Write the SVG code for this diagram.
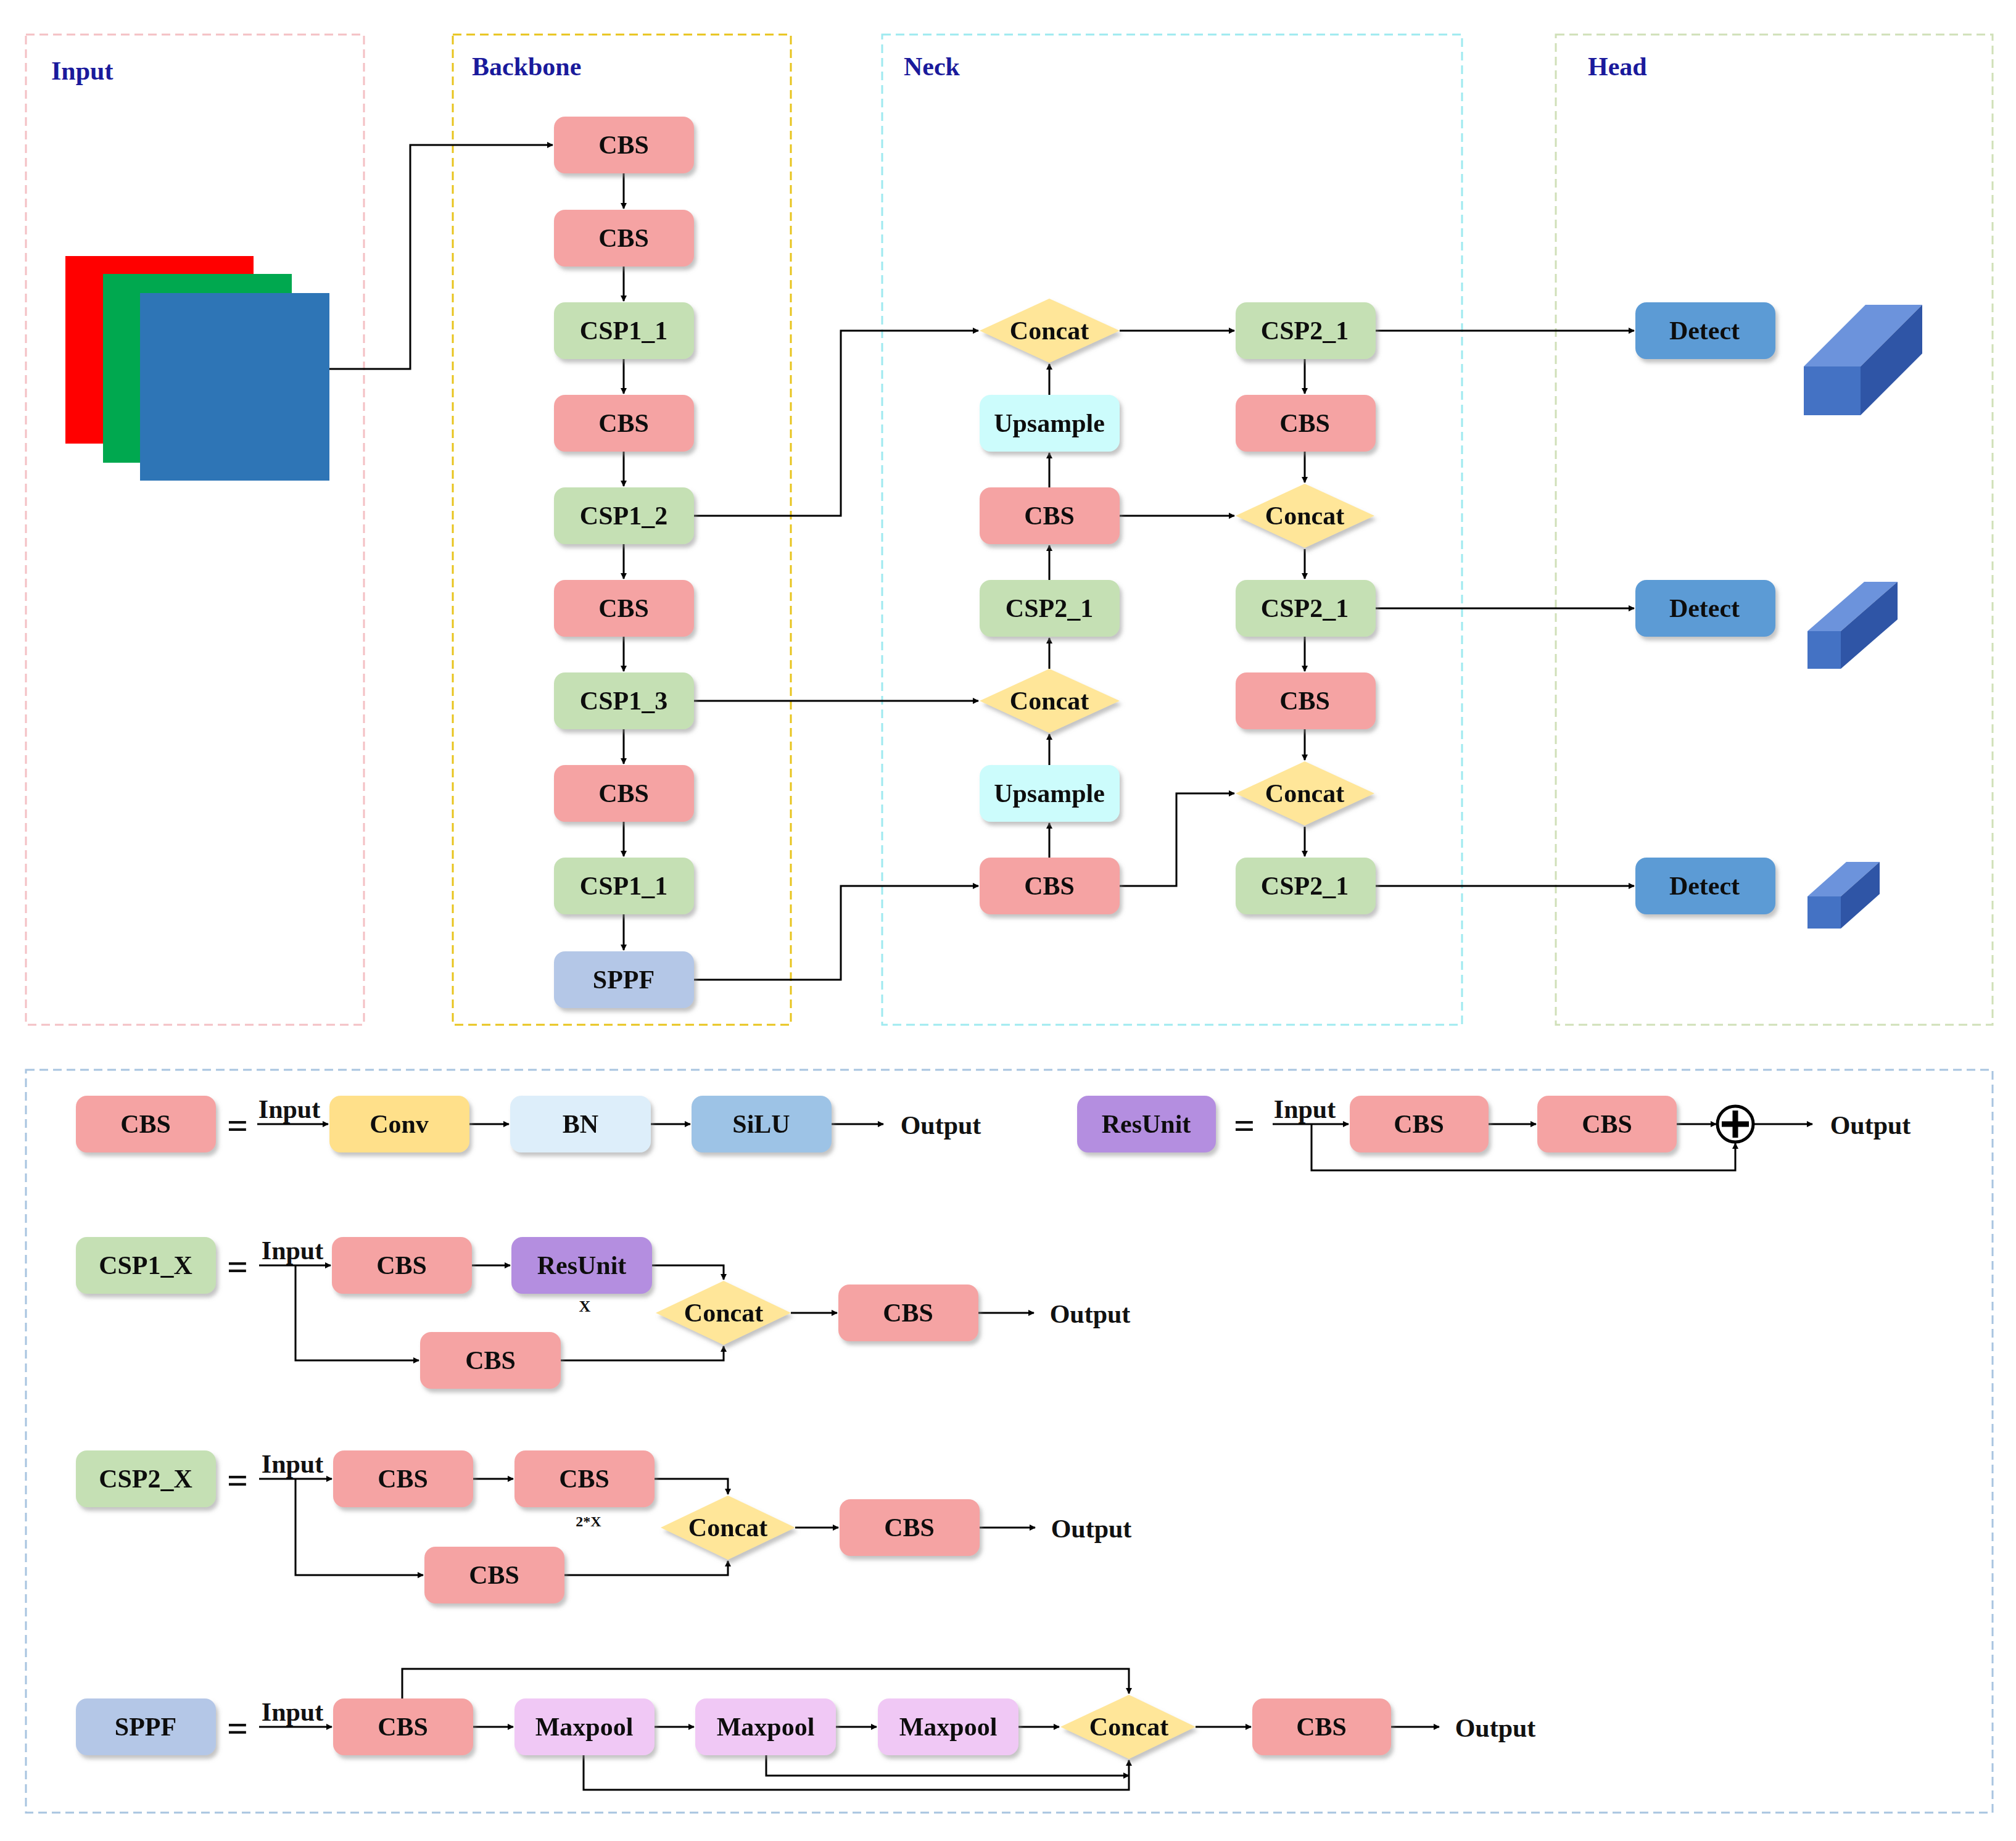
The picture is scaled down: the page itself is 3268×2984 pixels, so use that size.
<svg xmlns="http://www.w3.org/2000/svg" width="3268" height="2984" viewBox="0 0 3268 2984">
<defs>
<marker id="ah" markerWidth="10" markerHeight="10" refX="9" refY="5" orient="auto" markerUnits="userSpaceOnUse" viewBox="0 0 10 10"><path d="M0,0 L10,5 L0,10 z" fill="#000"/></marker>
<filter id="sh" x="-10%" y="-10%" width="125%" height="135%"><feDropShadow dx="4" dy="6" stdDeviation="3" flood-color="#888" flood-opacity="0.5"/></filter>
</defs>
<style>
text{font-family:"Liberation Serif","Times New Roman",serif;font-weight:bold;font-size:42px;fill:#111;text-anchor:middle;dominant-baseline:central}
.t{fill:#1a1a9c;text-anchor:start;font-size:42px}
.eq{font-size:60px}
.b{filter:url(#sh)}
.cbs{fill:#f5a3a3}.csp{fill:#c5e0b4}.sppf{fill:#b4c7e7}.up{fill:#ccfcfc}.det{fill:#5b9bd5}.cat{fill:#ffe699}.conv{fill:#ffe08a}.bn{fill:#ddeefa}.silu{fill:#9dc3e6}.res{fill:#b48ee0}.mp{fill:#f0c8f5}
.c{fill:none;stroke:#000;stroke-width:3;marker-end:url(#ah)}
.pn{fill:none;stroke-width:3;stroke-dasharray:14 8}
</style>
<rect width="3268" height="2984" fill="#fff"/>
<g id="panels">
<rect class="pn" x="42" y="56" width="548" height="1605" stroke="#f4c0c4"/>
<rect class="pn" x="734" y="56" width="548" height="1605" stroke="#e8c41c"/>
<rect class="pn" x="1430" y="56" width="940" height="1605" stroke="#9eeaf0"/>
<rect class="pn" x="2522" y="56" width="708" height="1605" stroke="#d0e0b8"/>
<rect class="pn" x="42" y="1734" width="3188" height="1204" stroke="#a8c4e0"/>
<text class="t" x="83" y="115">Input</text>
<text class="t" x="765" y="108">Backbone</text>
<text class="t" x="1465" y="108">Neck</text>
<text class="t" x="2574" y="108">Head</text>
</g>
<g id="input-image">
<rect x="106" y="415" width="305" height="304" fill="#ff0000"/>
<rect x="167" y="444" width="306" height="306" fill="#00a84f"/>
<rect x="227" y="475" width="307" height="304" fill="#2e75b6"/>
</g>
<g id="connectors">
<path class="c" d="M534,598 H665 V235 H896"/>
<path class="c" d="M1011,281 V338"/><path class="c" d="M1011,432 V488"/><path class="c" d="M1011,582 V638"/><path class="c" d="M1011,732 V788"/><path class="c" d="M1011,882 V938"/><path class="c" d="M1011,1032 V1088"/><path class="c" d="M1011,1182 V1238"/><path class="c" d="M1011,1332 V1388"/><path class="c" d="M1011,1482 V1540"/>
<path class="c" d="M1125,836 H1363 V536 H1586"/>
<path class="c" d="M1125,1136 H1586"/>
<path class="c" d="M1125,1588 H1363 V1436 H1586"/>
<path class="c" d="M1701,1390 V1334"/><path class="c" d="M1701,1240 V1190"/><path class="c" d="M1701,1084 V1034"/><path class="c" d="M1701,940 V884"/><path class="c" d="M1701,790 V734"/><path class="c" d="M1701,640 V590"/>
<path class="c" d="M1815,536 H2001"/>
<path class="c" d="M1815,836 H2001"/>
<path class="c" d="M1815,1436 H1907 V1286 H2001"/>
<path class="c" d="M2115,582 V638"/><path class="c" d="M2115,732 V782"/><path class="c" d="M2115,890 V938"/><path class="c" d="M2115,1032 V1088"/><path class="c" d="M2115,1182 V1232"/><path class="c" d="M2115,1340 V1388"/>
<path class="c" d="M2228,536 H2649"/><path class="c" d="M2228,986 H2649"/><path class="c" d="M2228,1436 H2649"/>
<path class="c" d="M417,1822 H532"/><path class="c" d="M761,1822 H825"/><path class="c" d="M1055,1822 H1119"/><path class="c" d="M1348,1822 H1432"/>
<path class="c" d="M2063,1822 H2186"/><path class="c" d="M2413,1822 H2490"/><path class="c" d="M2718,1822 H2782"/><path class="c" d="M2842,1822 H2938"/>
<path class="c" d="M2126,1822 V1897 H2813 V1853"/>
<path class="c" d="M420,2051 H536"/><path class="c" d="M765,2051 H827"/><path class="c" d="M1057,2051 H1173 V2074"/><path class="c" d="M479,2051 V2205 H679"/><path class="c" d="M909,2205 H1173 V2182"/><path class="c" d="M1282,2128 H1357"/><path class="c" d="M1586,2128 H1676"/>
<path class="c" d="M420,2397 H538"/><path class="c" d="M767,2397 H832"/><path class="c" d="M1061,2397 H1180 V2422"/><path class="c" d="M479,2397 V2553 H686"/><path class="c" d="M915,2553 H1180 V2530"/><path class="c" d="M1289,2476 H1359"/><path class="c" d="M1588,2476 H1678"/>
<path class="c" d="M420,2799 H538"/><path class="c" d="M767,2799 H832"/><path class="c" d="M1061,2799 H1125"/><path class="c" d="M1355,2799 H1421"/><path class="c" d="M1651,2799 H1717"/><path class="c" d="M1938,2799 H2028"/><path class="c" d="M2255,2799 H2333"/>
<path class="c" d="M652,2753 V2705 H1830 V2745"/>
<path class="c" d="M946,2845 V2901 H1830 V2853"/>
<path class="c" d="M1242,2845 V2878 H1830"/>
</g>
<g id="backbone">
<g class="b"><rect class="cbs" x="898" y="189" width="227" height="92" rx="18"/><text x="1011" y="235">CBS</text></g>
<g class="b"><rect class="cbs" x="898" y="340" width="227" height="92" rx="18"/><text x="1011" y="386">CBS</text></g>
<g class="b"><rect class="csp" x="898" y="490" width="227" height="92" rx="18"/><text x="1011" y="536">CSP1_1</text></g>
<g class="b"><rect class="cbs" x="898" y="640" width="227" height="92" rx="18"/><text x="1011" y="686">CBS</text></g>
<g class="b"><rect class="csp" x="898" y="790" width="227" height="92" rx="18"/><text x="1011" y="836">CSP1_2</text></g>
<g class="b"><rect class="cbs" x="898" y="940" width="227" height="92" rx="18"/><text x="1011" y="986">CBS</text></g>
<g class="b"><rect class="csp" x="898" y="1090" width="227" height="92" rx="18"/><text x="1011" y="1136">CSP1_3</text></g>
<g class="b"><rect class="cbs" x="898" y="1240" width="227" height="92" rx="18"/><text x="1011" y="1286">CBS</text></g>
<g class="b"><rect class="csp" x="898" y="1390" width="227" height="92" rx="18"/><text x="1011" y="1436">CSP1_1</text></g>
<g class="b"><rect class="sppf" x="898" y="1542" width="227" height="92" rx="18"/><text x="1011" y="1588">SPPF</text></g>
</g>
<g id="neck">
<g class="b"><polygon class="cat" points="1588,536 1701,484 1815,536 1701,588"/><text x="1701" y="536">Concat</text></g>
<g class="b"><rect class="up" x="1588" y="640" width="227" height="92" rx="18"/><text x="1701" y="686">Upsample</text></g>
<g class="b"><rect class="cbs" x="1588" y="790" width="227" height="92" rx="18"/><text x="1701" y="836">CBS</text></g>
<g class="b"><rect class="csp" x="1588" y="940" width="227" height="92" rx="18"/><text x="1701" y="986">CSP2_1</text></g>
<g class="b"><polygon class="cat" points="1588,1136 1701,1084 1815,1136 1701,1188"/><text x="1701" y="1136">Concat</text></g>
<g class="b"><rect class="up" x="1588" y="1240" width="227" height="92" rx="18"/><text x="1701" y="1286">Upsample</text></g>
<g class="b"><rect class="cbs" x="1588" y="1390" width="227" height="92" rx="18"/><text x="1701" y="1436">CBS</text></g>
<g class="b"><rect class="csp" x="2003" y="490" width="227" height="92" rx="18"/><text x="2115" y="536">CSP2_1</text></g>
<g class="b"><rect class="cbs" x="2003" y="640" width="227" height="92" rx="18"/><text x="2115" y="686">CBS</text></g>
<g class="b"><polygon class="cat" points="2003,836 2115,784 2228,836 2115,888"/><text x="2115" y="836">Concat</text></g>
<g class="b"><rect class="csp" x="2003" y="940" width="227" height="92" rx="18"/><text x="2115" y="986">CSP2_1</text></g>
<g class="b"><rect class="cbs" x="2003" y="1090" width="227" height="92" rx="18"/><text x="2115" y="1136">CBS</text></g>
<g class="b"><polygon class="cat" points="2003,1286 2115,1234 2228,1286 2115,1338"/><text x="2115" y="1286">Concat</text></g>
<g class="b"><rect class="csp" x="2003" y="1390" width="227" height="92" rx="18"/><text x="2115" y="1436">CSP2_1</text></g>
</g>
<g id="head">
<g class="b"><rect class="det" x="2651" y="490" width="227" height="92" rx="18"/><text x="2763" y="536">Detect</text></g>
<g class="b"><rect class="det" x="2651" y="940" width="227" height="92" rx="18"/><text x="2763" y="986">Detect</text></g>
<g class="b"><rect class="det" x="2651" y="1390" width="227" height="92" rx="18"/><text x="2763" y="1436">Detect</text></g>
<g id="cube1"><polygon points="2924,594 3016,594 3116,494 3024,494" fill="#6c93dc"/><polygon points="3016,594 3116,494 3116,573 3016,673" fill="#2f55a6"/><rect x="2924" y="594" width="92" height="79" fill="#4472c4"/></g>
<g id="cube2"><polygon points="2930,1023 2984,1023 3076,943 3022,943" fill="#6c93dc"/><polygon points="2984,1023 3076,943 3076,1004 2984,1084" fill="#2f55a6"/><rect x="2930" y="1023" width="54" height="61" fill="#4472c4"/></g>
<g id="cube3"><polygon points="2930,1453 2984,1453 3047,1397 2993,1397" fill="#6c93dc"/><polygon points="2984,1453 3047,1397 3047,1449 2984,1505" fill="#2f55a6"/><rect x="2930" y="1453" width="54" height="52" fill="#4472c4"/></g>
</g>
<g id="legend">
<g class="b"><rect class="cbs" x="123" y="1776" width="227" height="92" rx="18"/><text x="236" y="1822">CBS</text></g>
<text class="eq" x="385" y="1824">=</text><text x="469" y="1798">Input</text>
<g class="b"><rect class="conv" x="534" y="1776" width="227" height="92" rx="18"/><text x="647" y="1822">Conv</text></g>
<g class="b"><rect class="bn" x="827" y="1776" width="228" height="92" rx="18"/><text x="941" y="1822">BN</text></g>
<g class="b"><rect class="silu" x="1121" y="1776" width="227" height="92" rx="18"/><text x="1234" y="1822">SiLU</text></g>
<text x="1525" y="1824">Output</text>
<g class="b"><rect class="res" x="1746" y="1776" width="225" height="92" rx="18"/><text x="1858" y="1822">ResUnit</text></g>
<text class="eq" x="2017" y="1824">=</text><text x="2115" y="1798">Input</text>
<g class="b"><rect class="cbs" x="2188" y="1776" width="225" height="92" rx="18"/><text x="2300" y="1822">CBS</text></g>
<g class="b"><rect class="cbs" x="2492" y="1776" width="226" height="92" rx="18"/><text x="2605" y="1822">CBS</text></g>
<circle cx="2813" cy="1822" r="29" fill="#fff" stroke="#000" stroke-width="5"/><path d="M2813,1800 V1844 M2791,1822 H2835" stroke="#000" stroke-width="9"/>
<text x="3032" y="1824">Output</text>
<g class="b"><rect class="csp" x="123" y="2005" width="227" height="92" rx="18"/><text x="236" y="2051">CSP1_X</text></g>
<text class="eq" x="385" y="2053">=</text><text x="474" y="2027">Input</text>
<g class="b"><rect class="cbs" x="538" y="2005" width="227" height="92" rx="18"/><text x="651" y="2051">CBS</text></g>
<g class="b"><rect class="res" x="829" y="2005" width="228" height="92" rx="18"/><text x="943" y="2051">ResUnit</text></g>
<text x="948" y="2117" style="font-size:26px">X</text>
<g class="b"><polygon class="cat" points="1063,2128 1173,2076 1282,2128 1173,2180"/><text x="1173" y="2128">Concat</text></g>
<g class="b"><rect class="cbs" x="681" y="2159" width="228" height="92" rx="18"/><text x="795" y="2205">CBS</text></g>
<g class="b"><rect class="cbs" x="1359" y="2082" width="227" height="92" rx="18"/><text x="1472" y="2128">CBS</text></g>
<text x="1767" y="2130">Output</text>
<g class="b"><rect class="csp" x="123" y="2351" width="227" height="92" rx="18"/><text x="236" y="2397">CSP2_X</text></g>
<text class="eq" x="385" y="2399">=</text><text x="474" y="2373">Input</text>
<g class="b"><rect class="cbs" x="540" y="2351" width="227" height="92" rx="18"/><text x="653" y="2397">CBS</text></g>
<g class="b"><rect class="cbs" x="834" y="2351" width="227" height="92" rx="18"/><text x="947" y="2397">CBS</text></g>
<text x="954" y="2466" style="font-size:24px">2*X</text>
<g class="b"><polygon class="cat" points="1071,2476 1180,2424 1289,2476 1180,2528"/><text x="1180" y="2476">Concat</text></g>
<g class="b"><rect class="cbs" x="688" y="2507" width="227" height="92" rx="18"/><text x="801" y="2553">CBS</text></g>
<g class="b"><rect class="cbs" x="1361" y="2430" width="227" height="92" rx="18"/><text x="1474" y="2476">CBS</text></g>
<text x="1769" y="2478">Output</text>
<g class="b"><rect class="sppf" x="123" y="2753" width="227" height="92" rx="18"/><text x="236" y="2799">SPPF</text></g>
<text class="eq" x="385" y="2801">=</text><text x="474" y="2775">Input</text>
<g class="b"><rect class="cbs" x="540" y="2753" width="227" height="92" rx="18"/><text x="653" y="2799">CBS</text></g>
<g class="b"><rect class="mp" x="834" y="2753" width="227" height="92" rx="18"/><text x="947" y="2799">Maxpool</text></g>
<g class="b"><rect class="mp" x="1127" y="2753" width="228" height="92" rx="18"/><text x="1241" y="2799">Maxpool</text></g>
<g class="b"><rect class="mp" x="1423" y="2753" width="228" height="92" rx="18"/><text x="1537" y="2799">Maxpool</text></g>
<g class="b"><polygon class="cat" points="1719,2799 1830,2747 1938,2799 1830,2851"/><text x="1830" y="2799">Concat</text></g>
<g class="b"><rect class="cbs" x="2030" y="2753" width="225" height="92" rx="18"/><text x="2142" y="2799">CBS</text></g>
<text x="2424" y="2801">Output</text>
</g>
</svg>
